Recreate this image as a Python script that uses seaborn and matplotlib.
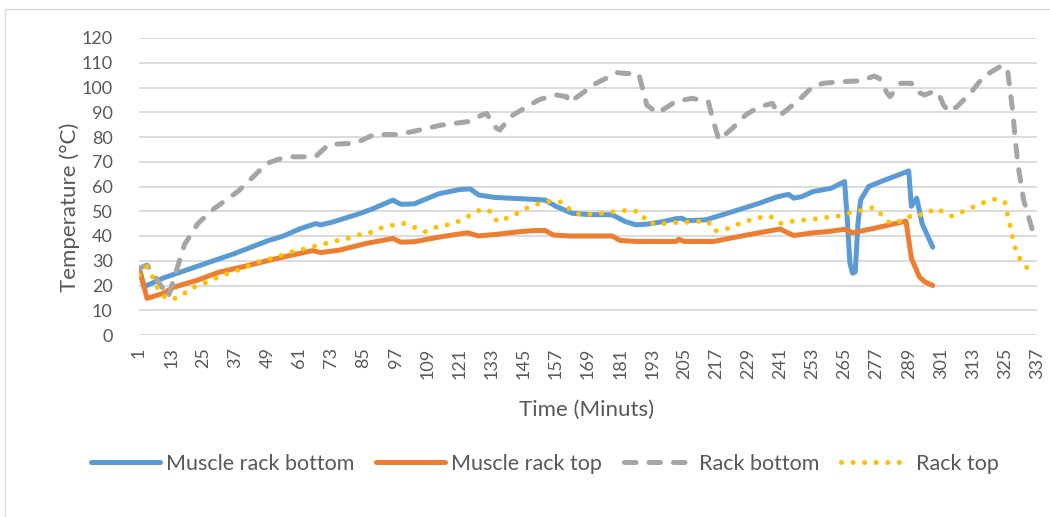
import matplotlib
matplotlib.use("Agg")
import matplotlib.pyplot as plt
import matplotlib.patches as mpatches
import seaborn as sns

# values (minute, temperature)
mrb_t = [1, 3, 10, 23, 37, 49, 55, 61, 67, 69, 73, 82, 88, 96, 99, 104, 113, 121, 125, 128,
         134, 141, 149, 153, 157, 163, 170, 178, 183, 187, 191, 197, 202, 204, 206, 213, 223,
         233, 240, 244, 246, 249, 253, 256, 260, 265, 266, 267, 268, 269, 270, 271, 274, 280,
         285, 289, 290, 292, 294, 298]
mrb_v = [27, 19.5, 23, 27.8, 33, 38, 40, 42.8, 45, 44.5, 45.5, 48.5, 50.8, 54.5, 52.8, 53, 57,
         58.8, 59, 56.6, 55.6, 55.2, 54.8, 54.5, 52, 49.2, 48.6, 48.6, 45.8, 44.5, 44.8, 45.8,
         47, 47.2, 46.2, 46.5, 49.8, 53.2, 55.9, 56.8, 55.3, 55.9, 57.9, 58.5, 59.3, 62, 47, 29,
         25, 25.5, 45, 54.5, 60, 62.6, 64.6, 66.3, 52, 55.3, 45, 35.5]

mrt_t = [1, 4, 10, 14, 23, 31, 40, 49, 57, 66, 69, 76, 86, 96, 99, 104, 114, 124, 128, 135,
         143, 149, 153, 156, 162, 178, 181, 187, 202, 203, 205, 216, 225, 235, 241, 243, 246,
         250, 253, 258, 265, 268, 276, 283, 288, 290, 291, 293, 295, 298]
mrt_v = [27, 14.8, 16.8, 19.3, 22.2, 25.4, 27.6, 30, 32, 34.1, 33.3, 34.3, 37, 39, 37.5, 37.7,
         39.7, 41.3, 40, 40.7, 41.7, 42.2, 42.2, 40.4, 40, 40, 38.2, 37.8, 37.8, 38.7, 37.8,
         37.8, 39.7, 41.7, 42.8, 41.7, 40.2, 40.8, 41.3, 41.7, 42.7, 41.3, 43.1, 44.8, 46, 31,
         28.5, 23.5, 21.5, 20]

rb_t = [1, 4, 12, 18, 23, 29, 38, 49, 56, 67, 72, 82, 89, 97, 103, 114, 124, 128, 131, 134,
        136, 140, 146, 151, 157, 161, 162, 166, 172, 180, 183, 188, 191, 195, 202, 208, 214,
        216, 218, 223, 228, 233, 238, 240, 241, 248, 253, 257, 263, 271, 276, 278, 281, 282,
        286, 290, 292, 295, 298, 300, 302, 304, 307, 312, 317, 324, 326, 328, 329, 330, 332, 336]
rb_v = [27, 28.3, 15.5, 36.5, 45, 51, 58, 69.4, 72, 72, 77, 77.5, 81, 81, 82.1, 84.8, 86.2,
        88.2, 89.6, 84.2, 82.8, 88.2, 92.2, 95.2, 97, 96.3, 93.9, 97, 101.7, 106, 105.7, 105.5,
        92.9, 89.6, 94.5, 95.6, 94.3, 86, 78.8, 83.5, 88.9, 92.2, 93.6, 89.6, 88.9, 95, 100.3,
        101.7, 102.3, 102.7, 104.6, 103.7, 97.6, 96.3, 101.7, 101.7, 98.3, 97, 98.3, 98, 93,
        90.2, 92.2, 97.6, 104.4, 109, 107, 89.6, 77.5, 68, 54.5, 39.7]

rt_t = [1, 4, 6, 8, 11, 15, 19, 23, 27, 31, 35, 40, 44, 48, 53, 57, 61, 66, 70, 75, 79, 83,
        88, 91, 96, 100, 104, 108, 112, 116, 121, 125, 129, 133, 135, 139, 143, 147, 151, 156,
        160, 163, 167, 171, 176, 180, 185, 189, 191, 196, 200, 205, 209, 214, 216, 220, 224,
        229, 233, 237, 241, 245, 250, 254, 259, 263, 267, 272, 276, 279, 282, 287, 291, 295,
        299, 302, 305, 310, 314, 318, 322, 325, 326, 327, 328, 329, 331, 334]
rt_v = [24.2, 27.6, 23.6, 18.9, 14.8, 14.8, 17.5, 20.2, 21.5, 23.6, 25.2, 26.9, 29, 30.3, 31.6,
        33.3, 34.3, 35.7, 36.8, 38.1, 39, 40.4, 41.5, 43.1, 44.4, 45.1, 43.5, 41.7, 43.5, 44.4,
        46.1, 48.5, 50.8, 49.8, 45.8, 47.4, 49.4, 51.8, 53.2, 54.3, 53.5, 49.6, 48.5, 48.9,
        49.4, 50, 50.5, 49.4, 45.4, 44.8, 45.4, 45.4, 45.9, 45.9, 42.1, 42.4, 44.4, 46.2, 47.4,
        48.1, 45.1, 45.9, 46.5, 46.9, 47.6, 48.1, 49.4, 50.5, 51.6, 48.5, 45.1, 46.2, 48.9,
        48.5, 51.2, 49.6, 48.1, 50.2, 52.2, 53.9, 55.1, 53.5, 48.6, 43.8, 38.8, 34.3, 29.9, 26.3]

x_ticks = list(range(1, 338, 12))

sns.set_style("white")
plt.rcParams['font.family'] = ['Lato', 'DejaVu Sans']
txt = '#595959'

fig = plt.figure(figsize=(10.5, 5.17), dpi=100)
ax = fig.add_axes([139 / 1050, 1 - 335 / 517, 898 / 1050, 297 / 517])

lw = 3.6
sns.lineplot(x=mrb_t, y=mrb_v, ax=ax, color='#5B9BD5', linewidth=lw, estimator=None,
             label='Muscle rack bottom', solid_capstyle='round', solid_joinstyle='round')
sns.lineplot(x=mrt_t, y=mrt_v, ax=ax, color='#ED7D31', linewidth=lw, estimator=None,
             label='Muscle rack top', solid_capstyle='round', solid_joinstyle='round')
sns.lineplot(x=rb_t, y=rb_v, ax=ax, color='#A5A5A5', linewidth=lw, estimator=None,
             label='Rack bottom', linestyle=(0, (2.3, 2.6)), dash_capstyle='round')
sns.lineplot(x=rt_t, y=rt_v, ax=ax, color='#FFC000', linewidth=lw, estimator=None,
             label='Rack top', linestyle=(0, (0.01, 2.3)), dash_capstyle='round')

ax.set_xlim(1, 337)
ax.set_ylim(0, 120)
ax.set_yticks(range(0, 121, 10))
ax.set_xticks(x_ticks)
ax.set_xticklabels([str(t) for t in x_ticks], rotation=90)
ax.tick_params(axis='x', length=0, pad=9, labelsize=13, labelcolor=txt)
ax.tick_params(axis='y', length=0, pad=19, labelsize=13, labelcolor=txt)
ax.grid(axis='y', color='#d9d9d9', linewidth=1.3)
ax.set_axisbelow(True)
for s in ax.spines.values():
    s.set_visible(False)

ax.set_xlabel('Time (Minuts)', fontsize=16, color=txt)
ax.set_ylabel('Temperature (°C)', fontsize=16, color=txt)
ax.xaxis.set_label_coords((587 - 139) / 898, (335 - 400) / 297)
ax.yaxis.set_label_coords((80 - 139) / 898, (335 - 207) / 297)

ax.get_legend().remove()
h, l = ax.get_legend_handles_labels()
fig.legend(h, l, loc='center', bbox_to_anchor=(545 / 1050, 1 - 464 / 517), ncol=4,
           frameon=False, fontsize=15.5, labelcolor=txt, handlelength=3.2,
           handletextpad=0.3, columnspacing=1.0)

fig.patches.append(mpatches.Rectangle((5 / 1050, -0.1), 1.2, 1.1 - 9 / 517, fill=False,
                                      edgecolor='#d9d9d9', linewidth=1,
                                      transform=fig.transFigure, figure=fig))

fig.savefig('out.png', dpi=100)
